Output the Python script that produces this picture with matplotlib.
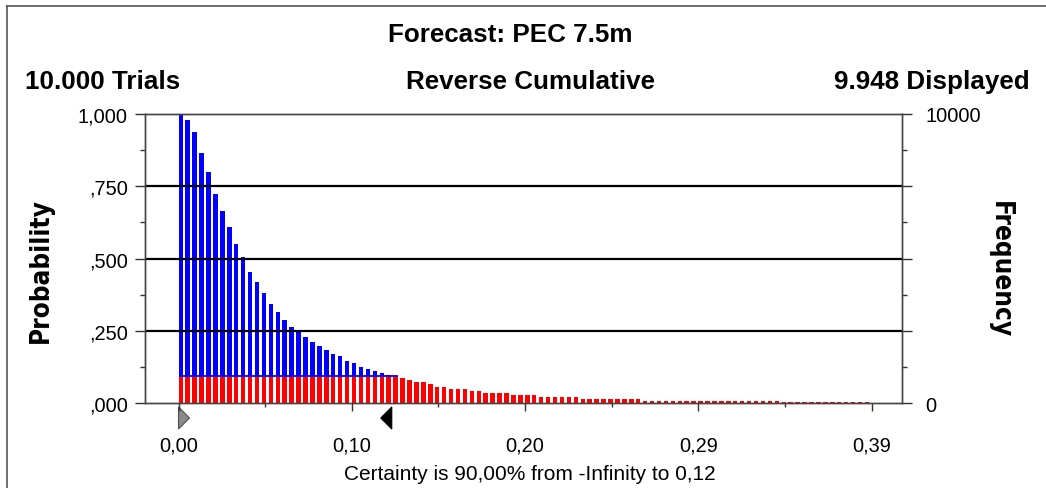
import matplotlib
matplotlib.use('Agg')
import matplotlib.pyplot as plt
import matplotlib.transforms as mtransforms
from matplotlib.lines import Line2D
from matplotlib.patches import Polygon
import numpy as np

plt.rcParams['font.family'] = ['Liberation Sans', 'DejaVu Sans']

# ---------------- data ----------------
title = "Forecast: PEC 7.5m"
trials_text = "10.000 Trials"
view_text = "Reverse Cumulative"
displayed_text = "9.948 Displayed"
certainty_text = "Certainty is 90,00% from -Infinity to 0,12"
left_label = "Probability"
right_label = "Frequency"

bin_width = 0.0039
certainty_upper = 0.12
certainty_prob = 0.093

rev_cum = [1.000, 0.979, 0.937, 0.864, 0.798, 0.725, 0.666, 0.608, 0.550, 0.506,
           0.454, 0.418, 0.381, 0.344, 0.316, 0.288, 0.264, 0.251, 0.228, 0.213,
           0.199, 0.184, 0.169, 0.162, 0.147, 0.141, 0.127, 0.120, 0.111, 0.105,
           0.098, 0.096,
           0.088, 0.080, 0.073, 0.073, 0.066, 0.058, 0.058, 0.051, 0.051, 0.051,
           0.044, 0.044, 0.036, 0.036, 0.036, 0.036, 0.029, 0.029, 0.029, 0.029,
           0.022, 0.022, 0.022, 0.022, 0.022, 0.022,
           0.015, 0.015, 0.015, 0.015, 0.015, 0.015, 0.015, 0.015, 0.015,
           0.008, 0.008, 0.008, 0.008, 0.008, 0.008, 0.008, 0.008, 0.008, 0.008,
           0.008, 0.008, 0.008, 0.008, 0.008, 0.008, 0.008, 0.008, 0.008, 0.008,
           0.004, 0.004, 0.004, 0.004, 0.004, 0.004, 0.004, 0.004, 0.004, 0.004,
           0.004, 0.004, 0.004]

x_ticks = [0.0, 0.0975, 0.195, 0.2925, 0.39]
x_tick_labels = ["0,00", "0,10", "0,20", "0,29", "0,39"]
y_ticks = [0.0, 0.25, 0.5, 0.75, 1.0]
y_tick_labels = [",000", ",250", ",500", ",750", "1,000"]
freq_ticks = [0, 2500, 5000, 7500, 10000]
freq_tick_labels = ["0", "", "", "", "10000"]

# ---------------- figure ----------------
W, H = 1046, 489
fig = plt.figure(figsize=(W / 100, H / 100), dpi=100)
fig.patch.set_facecolor('white')

ax_l, ax_r, ax_t, ax_b = 145, 902, 115, 404.3
ax = fig.add_axes([ax_l / W, 1 - ax_b / H, (ax_r - ax_l) / W, (ax_b - ax_t) / H])
xmin, xmax = -0.01885, 0.4071
ax.set_xlim(xmin, xmax)
ax.set_ylim(0, 1.0)

vals = np.array(rev_cum)
edges = np.arange(len(vals)) * bin_width
bw = 0.65 * bin_width
in_range = vals >= certainty_prob
red_h = np.where(in_range, certainty_prob, vals)

ax.bar(edges, red_h, width=bw, align='edge', color='#ff0000', linewidth=0, zorder=2)
ax.bar(edges[in_range], vals[in_range] - certainty_prob, bottom=certainty_prob,
       width=bw, align='edge', color='#0000ff', linewidth=0, zorder=2)
ax.hlines(certainty_prob, edges[0], edges[in_range][-1] + bw, color='#0000ff',
          lw=1.3, zorder=3)

for g in y_ticks[1:-1]:
    ax.axhline(g, color='black', lw=1.6, zorder=4)

# ticks
ax.set_xticks(x_ticks)
ax.set_xticklabels(x_tick_labels)
ax.set_xticks([(a + b) / 2 for a, b in zip(x_ticks[:-1], x_ticks[1:])], minor=True)
ax.set_yticks(y_ticks)
ax.set_yticklabels(y_tick_labels)
ax.set_yticks([(a + b) / 2 for a, b in zip(y_ticks[:-1], y_ticks[1:])], minor=True)
ax.tick_params(axis='y', which='major', length=7, width=1, pad=5.5, labelsize=14.4,
               color='#333333')
ax.tick_params(axis='y', which='minor', length=3.5, width=1, color='#333333')
ax.tick_params(axis='x', which='major', length=6, width=1, pad=17, labelsize=14.4,
               color='#333333')
ax.tick_params(axis='x', which='minor', length=3, width=1, color='#333333')

for s in ax.spines.values():
    s.set_color('#444444')
    s.set_linewidth(1.0)

ax2 = ax.twinx()
ax2.set_ylim(0, 10000)
ax2.set_yticks(freq_ticks)
ax2.set_yticklabels(freq_tick_labels)
ax2.set_yticks([(a + b) / 2 for a, b in zip(freq_ticks[:-1], freq_ticks[1:])], minor=True)
ax2.tick_params(axis='y', which='major', length=7, width=1, pad=10, labelsize=14.4,
                color='#333333')
ax2.tick_params(axis='y', which='minor', length=3.5, width=1, color='#333333')
for s in ax2.spines.values():
    s.set_color('#444444')
    s.set_linewidth(1.0)

# certainty markers
trans = mtransforms.blended_transform_factory(ax.transData, ax.transAxes)
w_data = 11 * (xmax - xmin) / (ax_r - ax_l)
y_top = (ax_b - 408) / (ax_b - ax_t)
y_bot = (ax_b - 430) / (ax_b - ax_t)
y_mid = (y_top + y_bot) / 2
lo = edges[0]
tri1 = Polygon([[lo, y_top], [lo, y_bot], [lo + w_data, y_mid]], closed=True,
               facecolor='#8a8a8a', edgecolor='#505050', lw=0.8,
               transform=trans, clip_on=False)
tri2 = Polygon([[certainty_upper, y_top], [certainty_upper, y_bot],
                [certainty_upper - w_data, y_mid]], closed=True,
               facecolor='black', edgecolor='black', lw=0.8,
               transform=trans, clip_on=False)
ax.add_patch(tri1)
ax.add_patch(tri2)

# texts
fs_big = 18.7
fig.text(510 / W, 1 - 42.3 / H, title, ha='center', va='baseline',
         fontsize=fs_big, fontweight='bold')
fig.text(25 / W, 1 - 89 / H, trials_text, ha='left', va='baseline',
         fontsize=fs_big, fontweight='bold')
fig.text(530 / W, 1 - 89 / H, view_text, ha='center', va='baseline',
         fontsize=fs_big, fontweight='bold')
fig.text(1030 / W, 1 - 89 / H, displayed_text, ha='right', va='baseline',
         fontsize=fs_big, fontweight='bold')
fig.text(530 / W, 1 - 480 / H, certainty_text, ha='center', va='baseline',
         fontsize=15)
fig.text(41 / W, 1 - 271 / H, left_label, rotation=90, ha='center', va='center',
         fontsize=18.7, fontweight='bold', fontstretch='condensed',
         family=['DejaVu Sans'])
fig.text(1000 / W, 1 - 270 / H, right_label, rotation=270, ha='center', va='center',
         fontsize=18.7, fontweight='bold', fontstretch='condensed',
         family=['DejaVu Sans'])

# window border
fig.add_artist(Line2D([6.5 / W, 6.5 / W], [0, 1 - 6.5 / H], color='#555555', lw=1.2,
                      transform=fig.transFigure))
fig.add_artist(Line2D([6.5 / W, 1], [1 - 6.5 / H, 1 - 6.5 / H], color='#555555', lw=1.2,
                      transform=fig.transFigure))

fig.savefig('out.png', dpi=100, facecolor='white')
